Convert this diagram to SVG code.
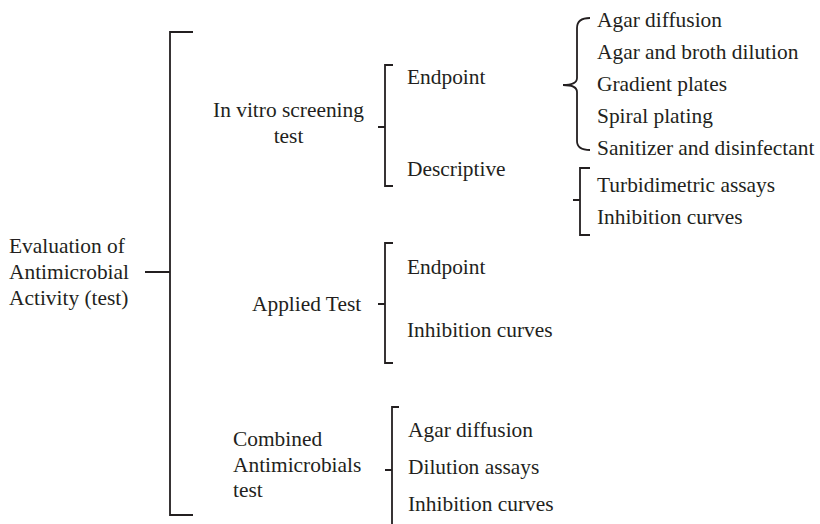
<svg xmlns="http://www.w3.org/2000/svg" width="820" height="524" viewBox="0 0 820 524">
<style>
text{font-family:'Liberation Serif','Times New Roman',Times,serif;font-size:21.4px;fill:#231f20}
.b{fill:none;stroke:#231f20;stroke-width:1.8}
</style>
<rect width="820" height="524" fill="#fff"/>
<g id="connectors">
<path class="b" d="M193,32 H170 V515 H193 M145,272 H170"/>
<path class="b" d="M393,65 H385 V186 H393 M378,127 H385"/>
<path class="b" d="M590,18 Q577,18 577,28 V78 Q577,85 563,85 Q577,85 577,92 V141 Q577,150 590,150"/>
<path class="b" d="M590,168 H580 V235 H590 M573,200 H580"/>
<path class="b" d="M393,243 H385 V363 H393 M378,304 H385"/>
<path class="b" d="M399,407 H392 V524 M385,470 H392"/>
</g>
<g id="root"><text x="9" y="253">Evaluation of</text><text x="9" y="279">Antimicrobial</text><text x="9" y="305">Activity (test)</text></g>
<g id="invitro"><text x="288.5" y="117" text-anchor="middle">In vitro screening</text><text x="288.5" y="143" text-anchor="middle">test</text></g>
<g id="endpoint1"><text x="407" y="84">Endpoint</text></g>
<g id="descriptive"><text x="407" y="176">Descriptive</text></g>
<g id="ep-list">
<text x="597" y="27">Agar diffusion</text>
<text x="597" y="59">Agar and broth dilution</text>
<text x="597" y="91">Gradient plates</text>
<text x="597" y="123">Spiral plating</text>
<text x="597" y="155">Sanitizer and disinfectant</text>
</g>
<g id="desc-list">
<text x="597" y="192">Turbidimetric assays</text>
<text x="597" y="224">Inhibition curves</text>
</g>
<g id="applied"><text x="252" y="311">Applied Test</text></g>
<g id="applied-list"><text x="407" y="274">Endpoint</text><text x="407" y="337">Inhibition curves</text></g>
<g id="combined"><text x="233" y="446">Combined</text><text x="233" y="472">Antimicrobials</text><text x="233" y="497">test</text></g>
<g id="combined-list"><text x="408" y="437">Agar diffusion</text><text x="408" y="474">Dilution assays</text><text x="408" y="511">Inhibition curves</text></g>
</svg>
